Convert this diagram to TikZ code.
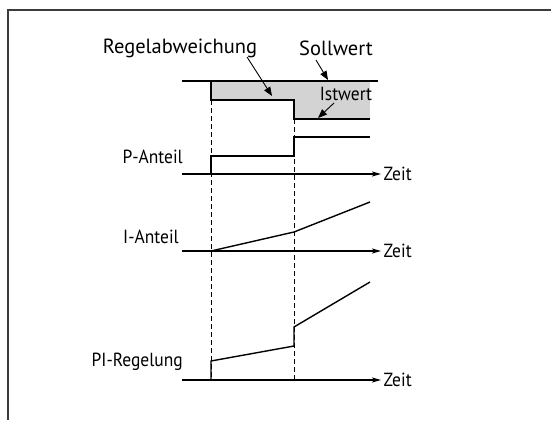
\documentclass[tikz,border=0pt]{standalone}
\usepackage{fontspec}
\setmainfont{PT Sans}
\newfontfamily\condfont[FakeStretch=0.92]{PT Sans}
\definecolor{rgframe}{RGB}{60,60,60}
\definecolor{rgfill}{RGB}{211,211,211}
\usetikzlibrary{arrows.meta,positioning}

\begin{document}
\begin{tikzpicture}[x=1pt,y=-1pt,
    sig/.style={line width=1.4pt,black},
    axis/.style={line width=1.1pt,-{Stealth[length=9pt,width=5pt,inset=2pt]}},
    timemark/.style={line width=0.8pt,dash pattern=on 5pt off 3pt},
    pointer/.style={line width=0.9pt,-{Triangle[length=9pt,width=7pt]}},
    bigtxt/.style={font=\fontsize{20.5}{22}\selectfont,inner sep=0pt},
    smalltxt/.style={font=\condfont\fontsize{19}{21}\selectfont,inner sep=0pt}]
  \useasboundingbox (0,0) rectangle (551,420);
  % Frame
  \draw[rgframe,line width=2pt] (8,420) -- (8,10) -- (551,10);
  % Deviation area between Sollwert and Istwert
  \fill[rgfill] (211,81) rectangle (370,100);
  \fill[rgfill] (294,100) rectangle (370,119);
  \draw[sig] (182,81) -- (378,81);
  \draw[sig] (211,81) -- (211,100) -- (294,100) -- (294,119) -- (370,119);
  % Time marks
  \draw[timemark] (211,100) -- (211,380);
  \draw[timemark] (294,119) -- (294,380);
  % Labels
  \node[bigtxt] (rlab) at (180,48) {Regelabweichung};
  \node[bigtxt] (slab) at (336,48) {Sollwert};
  \node[smalltxt] (ilab) at (346,94) {Istwert};
  \node[smalltxt,anchor=east] (plab) at (183,157) {P-Anteil};
  \node[smalltxt,anchor=east] (ialab) at (179,237) {I-Anteil};
  \node[smalltxt,anchor=east] (pilab) at (183,362) {PI-Regelung};
  % Pointers
  \coordinate (r0) at (247,57);
  \coordinate (r1) at (272,96);
  \coordinate (s0) at (316,60);
  \coordinate (s1) at (328,80);
  \coordinate (i0) at (334,103);
  \coordinate (i1) at (318,118);
  \draw[pointer] (r0) -- (r1);
  \draw[pointer] (s0) -- (s1);
  \draw[pointer] (i0) -- (i1);
  % Time axes
  \coordinate (pa0) at (182,174);
  \coordinate (pa1) at (381,174);
  \coordinate (ia0) at (182,251);
  \coordinate (ia1) at (381,251);
  \coordinate (pia0) at (182,380);
  \coordinate (pia1) at (381,380);
  \draw[axis] (pa0) -- (pa1) node[smalltxt,right=2pt] (pt) {Zeit};
  \draw[axis] (ia0) -- (ia1) node[smalltxt,right=2pt] (it) {Zeit};
  \draw[axis] (pia0) -- (pia1) node[smalltxt,right=2pt] (pit) {Zeit};
  % Responses
  \draw[sig] (211,174) -- (211,156) -- (294,156) -- (294,137) -- (370,137);
  \draw[sig] (211,251) -- (294,232) -- (370,202);
  \draw[sig] (211,380) -- (211,361) -- (294,346) -- (294,327) -- (370,282);
\end{tikzpicture}
\end{document}
